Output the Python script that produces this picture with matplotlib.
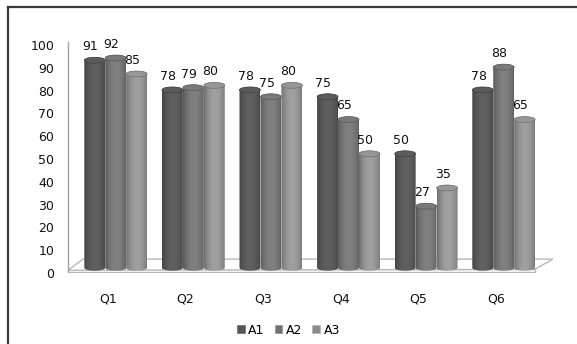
import matplotlib
matplotlib.use("Agg")
import matplotlib.pyplot as plt
from matplotlib.patches import Polygon, Ellipse, Patch
from matplotlib.lines import Line2D
import numpy as np

categories = ["Q1", "Q2", "Q3", "Q4", "Q5", "Q6"]
series_names = ["A1", "A2", "A3"]
A1 = [91, 78, 78, 75, 50, 78]
A2 = [92, 79, 75, 65, 27, 88]
A3 = [85, 80, 80, 50, 35, 65]
yticks = list(range(0, 101, 10))

base_grey = [0.33, 0.44, 0.55]
floor_lift = 2.3   # bars stand on the back part of the floor
bw = 0.27
ell_h = 2.6

fig = plt.figure(figsize=(5.77, 3.44), dpi=100)
ax = fig.add_axes([68 / 577, 71 / 344, 485 / 577, 228 / 344])
ax.set_xlim(-0.515, 5.735)
ax.set_ylim(0, 100)
for s in ax.spines.values():
    s.set_visible(False)

# floor slab
ax.add_patch(Polygon([[-0.515, 0.4], [5.50, 0.4], [5.50, 1.6], [-0.515, 1.6]],
                     closed=True, facecolor="white", edgecolor="#b8b8b8", lw=1.0, zorder=1))
ax.add_patch(Polygon([[-0.515, 1.2], [5.50, 1.6], [5.735, 6.1], [-0.32, 6.1]],
                     closed=True, facecolor="white", edgecolor="#b8b8b8", lw=1.0, zorder=1))
ax.plot([-0.515, -0.515], [0.4, 101.3], color="#a0a0a0", lw=1.0, clip_on=False, zorder=2)


def shade(base, n=64):
    t = np.linspace(0, 1, n)
    f = 0.72 + 0.42 * np.sin(np.pi * np.clip(t * 0.9 + 0.02, 0, 1)) ** 0.7
    v = np.clip(base * f, 0, 1)
    return np.stack([v, v, v], axis=-1)[None, :, :]


def cylinder(xc, h, base):
    x0, x1 = xc - bw / 2, xc + bw / 2
    b = floor_lift
    top = b + h
    th = np.linspace(np.pi, 2 * np.pi, 30)
    bot_arc = np.column_stack([xc + bw / 2 * np.cos(th), b + ell_h / 2 * np.sin(th)])
    th2 = np.linspace(0, np.pi, 30)
    top_arc = np.column_stack([xc + bw / 2 * np.cos(th2), top + ell_h / 2 * np.sin(th2)])
    pts = np.vstack([bot_arc, top_arc])
    body = Polygon(pts, closed=True, facecolor="none", edgecolor="none", zorder=3)
    ax.add_patch(body)
    im = ax.imshow(shade(base), extent=[x0, x1, b - ell_h, top + ell_h],
                   aspect="auto", interpolation="bilinear", zorder=3)
    im.set_clip_path(body)
    ax.add_patch(Ellipse((xc, top), bw, ell_h, facecolor=(base * 1.08,) * 3,
                         edgecolor=(base * 0.8,) * 3, lw=0.5, zorder=4))
    return top + ell_h / 2


all_series = [A1, A2, A3]
x = np.arange(len(categories))
for j, vals in enumerate(all_series):
    for i, v in enumerate(vals):
        xc = x[i] + 0.1 + (j - 1) * bw
        ytop = cylinder(xc, v, base_grey[j])
        ax.annotate(str(v), (xc, ytop), xytext=(-3, 3), textcoords="offset points",
                    ha="center", va="bottom", fontsize=9, color="#111111",
                    annotation_clip=False, zorder=6)

ax.set_xlim(-0.515, 5.735)
ax.set_ylim(0, 100)
ax.set_yticks(yticks)
ax.set_yticklabels([str(t) for t in yticks])
ax.set_xticks(x)
ax.set_xticklabels(categories)
ax.tick_params(axis="y", length=0, pad=10, labelsize=9, labelcolor="#111111")
ax.tick_params(axis="x", length=0, pad=14, labelsize=9, labelcolor="#111111")

handles = [Patch(facecolor=(g,) * 3, edgecolor=(g * 1.3,) * 3, lw=0.5) for g in base_grey]
fig.legend(handles, series_names, loc="center", bbox_to_anchor=(0.5, 0.04), ncol=3,
           frameon=False, fontsize=9, handlelength=0.6, handleheight=0.6,
           handletextpad=0.3, columnspacing=0.8)

# chart border (only top and left edges visible in the crop)
fig.add_artist(Line2D([8 / 577, 1], [1 - 7 / 344, 1 - 7 / 344], color="#3a3a3a", lw=1.6,
                      transform=fig.transFigure))
fig.add_artist(Line2D([8 / 577, 8 / 577], [0, 1 - 7 / 344], color="#3a3a3a", lw=1.6,
                      transform=fig.transFigure))

fig.savefig("out.png", dpi=100)
